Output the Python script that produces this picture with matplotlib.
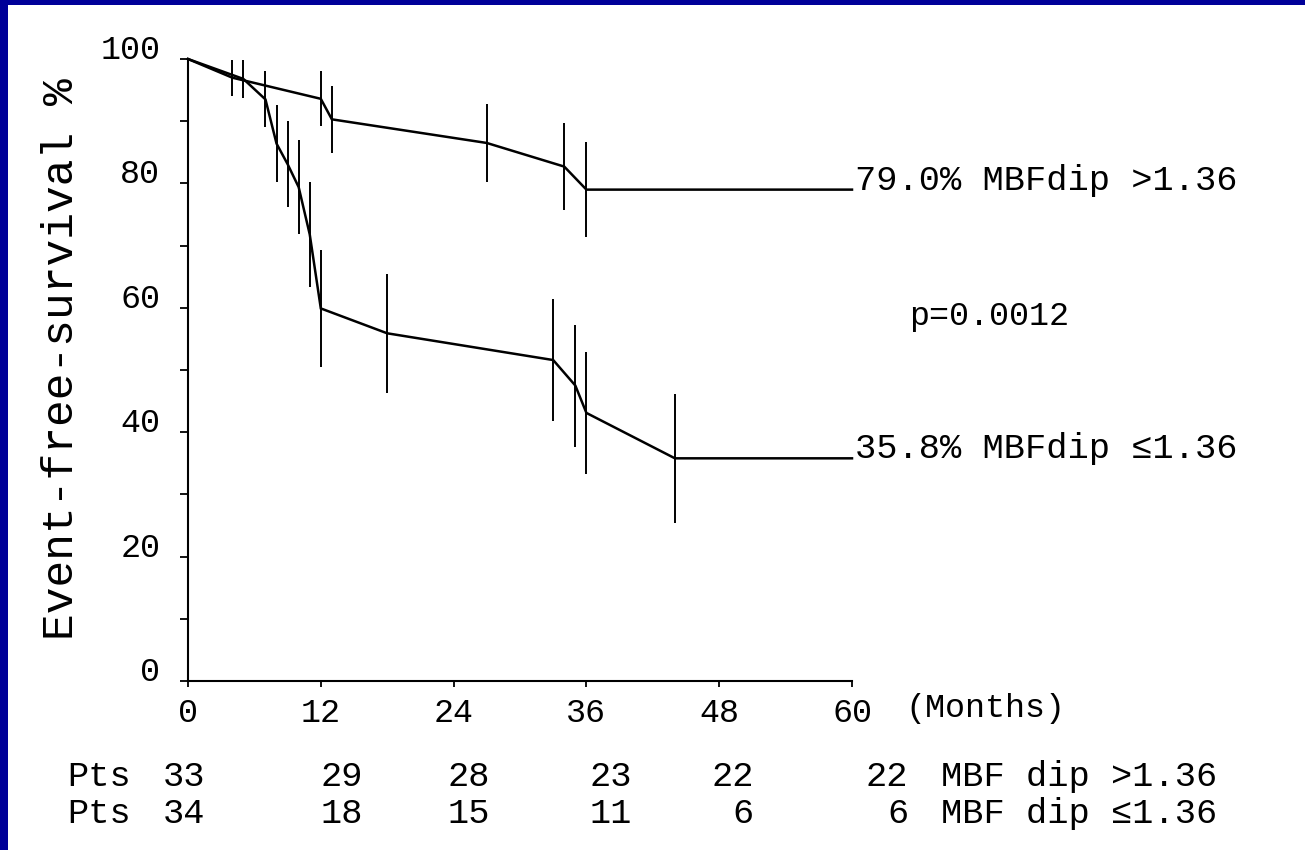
import matplotlib
matplotlib.use("Agg")
import matplotlib.pyplot as plt
from matplotlib.patches import Rectangle

# ---- data ----
# MBFdip > 1.36 group
hi_t = [0, 4, 12, 13, 27, 34, 36, 60]
hi_s = [100, 97.0, 93.6, 90.3, 86.5, 82.7, 79.0, 79.0]
hi_err_t = [4, 12, 13, 27, 34, 36]
hi_err_s = [97.0, 93.6, 90.3, 86.5, 82.7, 79.0]
hi_err = [2.9, 4.4, 5.4, 6.2, 7.0, 7.6]

# MBFdip <= 1.36 group
lo_t = [0, 5, 7, 8, 9, 10, 11, 12, 18, 33, 35, 36, 44, 60]
lo_s = [100, 96.8, 93.5, 86.4, 83.1, 79.4, 71.8, 59.9, 55.9, 51.6, 47.5, 43.1, 35.8, 35.8]
lo_err_t = [5, 7, 8, 9, 10, 11, 12, 18, 33, 35, 36, 44]
lo_err_s = [96.8, 93.5, 86.4, 83.1, 79.4, 71.8, 59.9, 55.9, 51.6, 47.5, 43.1, 35.8]
lo_err = [3.1, 4.5, 6.2, 6.9, 7.6, 8.5, 9.4, 9.6, 9.8, 9.8, 9.8, 10.4]

x_ticks = [0, 12, 24, 36, 48, 60]
y_ticks = [0, 20, 40, 60, 80, 100]
y_minor = [10, 30, 50, 70, 90]

hi_label = "79.0% MBFdip >1.36"
lo_label = "35.8% MBFdip \u22641.36"
p_text = "p=0.0012"
x_unit = "(Months)"
y_title = "Event-free-survival %"

risk_row_label = "Pts"
hi_risk = [33, 29, 28, 23, 22, 22]
lo_risk = [34, 18, 15, 11, 6, 6]
hi_risk_name = "MBF dip >1.36"
lo_risk_name = "MBF dip \u22641.36"

# ---- layout ----
plt.rcParams['font.family'] = ['Liberation Mono', 'DejaVu Sans Mono']
W, H = 1305, 850
fig = plt.figure(figsize=(W / 100, H / 100), dpi=100)
fig.patch.set_facecolor('white')

blue = '#000099'
fig.add_artist(Rectangle((0, 0), 8 / W, 1, transform=fig.transFigure,
                         facecolor=blue, edgecolor='none'))
fig.add_artist(Rectangle((0, 1 - 5 / H), 1, 5 / H, transform=fig.transFigure,
                         facecolor=blue, edgecolor='none'))

ax = fig.add_axes([188 / W, (H - 681) / H, 664 / W, 622 / H])
ax.set_facecolor('white')

ax.plot(hi_t, hi_s, color='black', lw=1.8, solid_joinstyle='miter', clip_on=False)
ax.plot(lo_t, lo_s, color='black', lw=1.8, solid_joinstyle='miter', clip_on=False)
ax.errorbar(hi_err_t, hi_err_s, yerr=hi_err, fmt='none', ecolor='black',
            elinewidth=1.4, capsize=0)
ax.errorbar(lo_err_t, lo_err_s, yerr=lo_err, fmt='none', ecolor='black',
            elinewidth=1.4, capsize=0)

ax.set_xlim(0, 60)
ax.set_ylim(0, 100)
for s in ['top', 'right']:
    ax.spines[s].set_visible(False)
for s in ['left', 'bottom']:
    ax.spines[s].set_linewidth(1.5)
    ax.spines[s].set_color('black')

tick_fs = 24
text_fs = 25.5

ax.set_xticks(x_ticks)
ax.set_xticklabels([str(v) for v in x_ticks], fontsize=tick_fs)
ax.set_yticks(y_ticks)
ax.set_yticklabels([str(v) for v in y_ticks], fontsize=tick_fs)
ax.set_yticks(y_minor, minor=True)
ax.tick_params(axis='y', which='both', direction='out', length=6, width=1.3, pad=14)
ax.tick_params(axis='x', which='both', direction='out', length=4, width=1.3, pad=8)
for lbl in ax.get_yticklabels():
    lbl.set_va('baseline')

ax.set_ylabel(y_title, fontsize=32, va='center')
ax.yaxis.set_label_coords(-0.19, 0.518)

ax.text(60.3, hi_s[-1], hi_label, fontsize=text_fs, ha='left', va='baseline', clip_on=False)
ax.text(60.3, lo_s[-1], lo_label, fontsize=text_fs, ha='left', va='baseline', clip_on=False)
ax.text(65.2, 57.2, p_text, fontsize=tick_fs, ha='left', va='baseline', clip_on=False)
ax.text(64.8, -5.8, x_unit, fontsize=tick_fs, ha='left', va='baseline', clip_on=False)

# number-at-risk table
col_right = [1.6, 15.8, 27.3, 40.1, 51.1, 65.1]
row_y = [-16.9, -22.8]
for yy, counts, name in [(row_y[0], hi_risk, hi_risk_name), (row_y[1], lo_risk, lo_risk_name)]:
    ax.text(-10.9, yy, risk_row_label, fontsize=text_fs, ha='left', va='baseline', clip_on=False)
    for xr, n in zip(col_right, counts):
        ax.text(xr, yy, str(n), fontsize=text_fs, ha='right', va='baseline', clip_on=False)
    ax.text(68.0, yy, name, fontsize=text_fs, ha='left', va='baseline', clip_on=False)

fig.savefig('out.png', dpi=100, facecolor='white')
